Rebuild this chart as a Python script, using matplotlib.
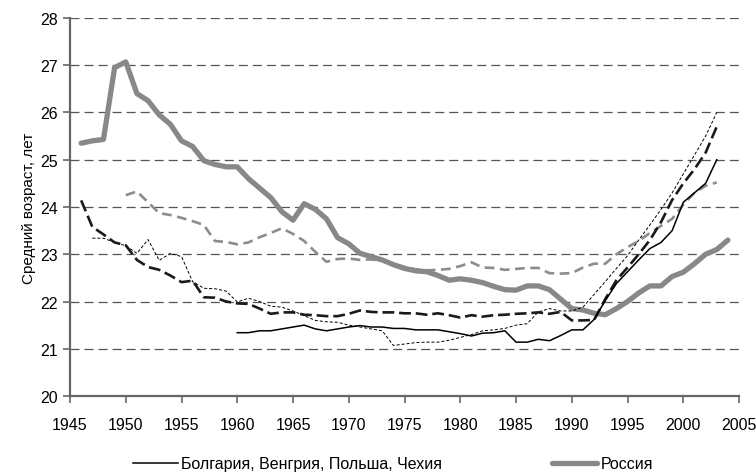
import matplotlib
matplotlib.use("Agg")
import matplotlib.pyplot as plt

plt.rcParams['font.family'] = ['Liberation Sans', 'DejaVu Sans']
plt.rcParams['lines.scale_dashes'] = False

# Россия, 1946-2004
years_ru = list(range(1946, 2005))
russia = [25.35, 25.40, 25.43, 26.95, 27.07, 26.40, 26.25, 25.95, 25.75, 25.40,
          25.28, 24.98, 24.90, 24.85, 24.85, 24.60, 24.40, 24.20, 23.90, 23.72,
          24.07, 23.95, 23.75, 23.35, 23.22, 23.02, 22.95, 22.88, 22.78, 22.70,
          22.65, 22.63, 22.55, 22.45, 22.48, 22.45, 22.40, 22.32, 22.25, 22.24,
          22.33, 22.33, 22.25, 22.05, 21.85, 21.82, 21.75, 21.72, 21.85, 22.00,
          22.18, 22.33, 22.33, 22.53, 22.62, 22.80, 23.00, 23.10, 23.30]

# gray dashed, 1950-2003
years_gray = list(range(1950, 2004))
gray_dashed = [24.25, 24.33, 24.10, 23.87, 23.83, 23.77, 23.70, 23.62, 23.28, 23.26,
               23.21, 23.25, 23.36, 23.45, 23.55, 23.43, 23.28, 23.05, 22.84, 22.90,
               22.91, 22.88, 22.89, 22.86, 22.80, 22.73, 22.68, 22.66, 22.67, 22.69,
               22.75, 22.83, 22.72, 22.71, 22.67, 22.69, 22.71, 22.71, 22.60, 22.59,
               22.60, 22.72, 22.80, 22.80, 23.00, 23.15, 23.28, 23.45, 23.60, 23.75,
               24.05, 24.30, 24.45, 24.52]

# thick black dashed, 1946-2003
years_thick = list(range(1946, 2004))
thick_dashed = [24.14, 23.58, 23.42, 23.25, 23.19, 22.88, 22.73, 22.67, 22.55, 22.41,
                22.44, 22.09, 22.08, 22.00, 21.96, 21.95, 21.85, 21.74, 21.77, 21.77,
                21.72, 21.71, 21.69, 21.69, 21.74, 21.81, 21.78, 21.77, 21.77, 21.75,
                21.75, 21.72, 21.75, 21.71, 21.66, 21.71, 21.68, 21.71, 21.72, 21.74,
                21.75, 21.77, 21.74, 21.78, 21.60, 21.60, 21.61, 22.05, 22.45, 22.72,
                23.00, 23.30, 23.68, 24.15, 24.50, 24.80, 25.15, 25.70]

# thin black dashed, 1947-2003
years_thin = list(range(1947, 2004))
thin_dashed = [23.34, 23.34, 23.25, 23.18, 23.02, 23.31, 22.87, 23.02, 22.95, 22.42,
               22.28, 22.27, 22.22, 21.99, 22.07, 22.00, 21.90, 21.88, 21.80, 21.70,
               21.60, 21.57, 21.56, 21.50, 21.46, 21.42, 21.38, 21.07, 21.10, 21.13,
               21.14, 21.14, 21.18, 21.24, 21.30, 21.38, 21.40, 21.43, 21.50, 21.53,
               21.78, 21.85, 21.80, 21.80, 21.88, 22.15, 22.42, 22.70, 22.97, 23.30,
               23.62, 23.95, 24.30, 24.70, 25.10, 25.50, 26.00]

# thin black solid, 1960-2003
years_solid = list(range(1960, 2004))
solid = [21.34, 21.34, 21.38, 21.38, 21.42, 21.46, 21.50, 21.42, 21.38, 21.42,
         21.46, 21.49, 21.46, 21.46, 21.43, 21.43, 21.40, 21.40, 21.40, 21.36,
         21.32, 21.27, 21.33, 21.34, 21.38, 21.14, 21.14, 21.20, 21.17, 21.28,
         21.40, 21.40, 21.62, 22.02, 22.38, 22.63, 22.88, 23.12, 23.25, 23.50,
         24.10, 24.30, 24.50, 25.00]

labels = ['Болгария, Венгрия, Польша, Чехия', 'Россия']

fig = plt.figure(figsize=(7.56, 4.77), dpi=100)
ax = fig.add_axes([0.0926, 0.1677, 0.885, 0.7925])

# grid lines
for v in range(21, 29):
    ax.axhline(v, color='#555555', lw=0.9, ls=(0, (6.5, 3.6)), zorder=1)

ax.plot(years_thin, thin_dashed, color='black', lw=0.7, ls=(0, (2.2, 1.4)), zorder=3)
ax.plot(years_gray, gray_dashed, color='#8c8c8c', lw=1.9, ls=(0, (7, 4)), zorder=2)
ax.plot(years_thick, thick_dashed, color='#1a1a1a', lw=1.9, ls=(0, (8.5, 3.5)), zorder=3)
l1, = ax.plot(years_solid, solid, color='black', lw=1.1, zorder=4)
l2, = ax.plot(years_ru, russia, color='#888888', lw=3.8, solid_capstyle='round',
              solid_joinstyle='round', zorder=2)

ax.set_xlim(1945, 2005)
ax.set_ylim(20, 28)
ax.set_xticks(range(1945, 2006, 5))
ax.set_yticks(range(20, 29))
for s in ['top', 'right']:
    ax.spines[s].set_visible(False)
for s in ['left', 'bottom']:
    ax.spines[s].set_color('#666666')
    ax.spines[s].set_linewidth(1.6)
ax.tick_params(axis='both', colors='#666666', width=1.2, length=5,
               labelcolor='black', labelsize=11.5)
ax.tick_params(axis='x', pad=10)
ax.set_ylabel('Средний возраст, лет', fontsize=11, labelpad=3)

fig.legend([l1, l2], labels, loc='lower center', bbox_to_anchor=(0.52, -0.02),
           ncol=2, frameon=False, fontsize=11.5, handlelength=2.8,
           handletextpad=0.2, columnspacing=6.9)

fig.savefig('out.png', dpi=100)
